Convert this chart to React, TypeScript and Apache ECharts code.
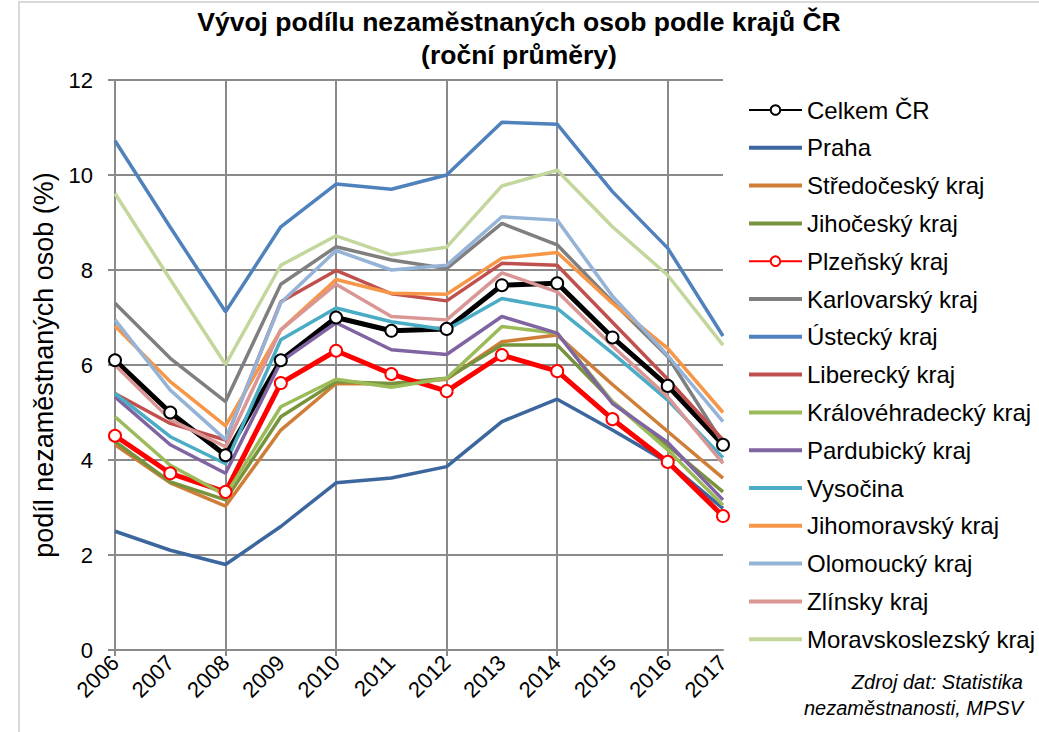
import React, { useEffect, useRef } from "react";
import * as echarts from "echarts";

const years = ["2006","2007","2008","2009","2010","2011","2012","2013","2014","2015","2016","2017"];

const celkem = [6.1, 5.0, 4.1, 6.1, 7.0, 6.72, 6.76, 7.68, 7.72, 6.58, 5.56, 4.32];
const praha = [2.5, 2.1, 1.8, 2.6, 3.52, 3.62, 3.86, 4.81, 5.28, 4.63, 3.95, 2.98];
const stredocesky = [4.32, 3.52, 3.03, 4.63, 5.61, 5.6, 5.7, 6.49, 6.63, 5.59, 4.6, 3.62];
const jihocesky = [4.39, 3.54, 3.16, 4.91, 5.65, 5.61, 5.72, 6.42, 6.42, 5.23, 4.3, 3.33];
const plzensky = [4.51, 3.72, 3.33, 5.62, 6.3, 5.81, 5.45, 6.21, 5.87, 4.86, 3.96, 2.82];
const karlovarsky = [7.3, 6.14, 5.23, 7.7, 8.49, 8.21, 8.03, 8.98, 8.53, 7.33, 6.18, 4.35];
const ustecky = [10.72, 8.9, 7.12, 8.91, 9.81, 9.7, 10.0, 11.11, 11.07, 9.65, 8.46, 6.61];
const liberecky = [5.4, 4.77, 4.42, 7.33, 7.99, 7.5, 7.35, 8.14, 8.1, 6.9, 5.7, 4.42];
const kralovehradecky = [4.91, 3.89, 3.26, 5.12, 5.7, 5.53, 5.72, 6.81, 6.67, 5.23, 4.21, 3.05];
const pardubicky = [5.33, 4.32, 3.72, 6.07, 6.89, 6.32, 6.22, 7.02, 6.67, 5.19, 4.37, 3.16];
const vysocina = [5.4, 4.49, 3.92, 6.53, 7.2, 6.91, 6.74, 7.4, 7.19, 6.25, 5.26, 4.05];
const jihomoravsky = [6.82, 5.65, 4.72, 6.74, 7.8, 7.51, 7.49, 8.25, 8.37, 7.3, 6.35, 5.0];
const olomoucky = [6.95, 5.47, 4.43, 7.31, 8.41, 8.0, 8.1, 9.12, 9.05, 7.45, 6.2, 4.81];
const zlinsky = [6.0, 4.85, 4.28, 6.74, 7.7, 7.02, 6.95, 7.94, 7.54, 6.4, 5.33, 3.93];
const moravskoslezsky = [9.61, 7.8, 6.01, 8.1, 8.72, 8.32, 8.48, 9.77, 10.1, 8.91, 7.89, 6.42];

const seriesDefs = [
  { name: "Celkem ČR", data: celkem, color: "#000000", marker: true },
  { name: "Praha", data: praha, color: "#3C679E" },
  { name: "Středočeský kraj", data: stredocesky, color: "#CF7E38" },
  { name: "Jihočeský kraj", data: jihocesky, color: "#77933C" },
  { name: "Plzeňský kraj", data: plzensky, color: "#FF0000", marker: true },
  { name: "Karlovarský kraj", data: karlovarsky, color: "#7F7F7F" },
  { name: "Ústecký kraj", data: ustecky, color: "#4F81BD" },
  { name: "Liberecký kraj", data: liberecky, color: "#C0504D" },
  { name: "Královéhradecký kraj", data: kralovehradecky, color: "#9BBB59" },
  { name: "Pardubický kraj", data: pardubicky, color: "#8064A2" },
  { name: "Vysočina", data: vysocina, color: "#4BACC6" },
  { name: "Jihomoravský kraj", data: jihomoravsky, color: "#F79646" },
  { name: "Olomoucký kraj", data: olomoucky, color: "#95B3D7" },
  { name: "Zlínsky kraj", data: zlinsky, color: "#D99694" },
  { name: "Moravskoslezský kraj", data: moravskoslezsky, color: "#C3D69B" },
];

const FONT = "'Liberation Sans', Arial, sans-serif";
const LINE_ICON = "path://M0,0 L53,0 L53,4 L0,4 Z";

export default function App() {
  const ref = useRef<HTMLDivElement>(null);
  useEffect(() => {
    if (!ref.current) return;
    const chart = echarts.init(ref.current, undefined, { renderer: "svg" });
    const gridColor = "#8A8A8A";
    chart.setOption({
      animation: false,
      backgroundColor: "#ffffff",
      textStyle: { fontFamily: FONT },
      title: {
        text: "Vývoj podílu nezaměstnaných osob podle krajů ČR\n(roční průměry)",
        left: 519,
        textAlign: "center",
        top: 5,
        padding: 0,
        textStyle: { fontFamily: FONT, fontSize: 26.5, fontWeight: "bold", color: "#000", lineHeight: 33 },
      },
      graphic: [
        {
          type: "rect",
          shape: { x: 19, y: 2, width: 1030, height: 740 },
          style: { fill: "none", stroke: "#D9D9D9", lineWidth: 2 },
          silent: true,
        },
        {
          type: "text",
          x: 1023,
          y: 669,
          style: {
            text: "Zdroj dat: Statistika\nnezaměstnanosti, MPSV",
            align: "right",
            verticalAlign: "top",
            fontFamily: FONT,
            fontSize: 20,
            fontStyle: "italic",
            lineHeight: 26,
            fill: "#000",
          },
        },
      ],
      legend: {
        orient: "vertical",
        left: 748,
        top: 98,
        padding: 0,
        itemWidth: 53,
        itemHeight: 12,
        itemGap: 13.8,
        textStyle: { fontFamily: FONT, fontSize: 24, color: "#000", lineHeight: 24 },
        data: seriesDefs.map((s) =>
          s.marker ? { name: s.name } : { name: s.name, icon: LINE_ICON }
        ),
      },
      grid: { left: 115, right: 316, top: 80, bottom: 82, containLabel: false },
      xAxis: {
        type: "category",
        data: years,
        boundaryGap: false,
        axisLine: { show: true, lineStyle: { color: gridColor, width: 2 } },
        axisTick: {
          show: true,
          interval: (i: number) => i % 2 === 0,
          length: 6,
          lineStyle: { color: gridColor, width: 2 },
        },
        axisLabel: {
          interval: 0,
          rotate: 45,
          margin: 9,
          fontFamily: FONT,
          fontSize: 22,
          color: "#000",
        },
        splitLine: {
          show: true,
          interval: (i: number) => i % 2 === 0,
          lineStyle: { color: gridColor, width: 2 },
        },
      },
      yAxis: {
        type: "value",
        min: 0,
        max: 12,
        interval: 2,
        name: "podíl nezaměstnaných osob (%)",
        nameLocation: "middle",
        nameGap: 58,
        nameTextStyle: { fontFamily: FONT, fontSize: 27, color: "#000" },
        axisLine: { show: true, lineStyle: { color: gridColor, width: 2 } },
        axisTick: { show: true, length: 7, lineStyle: { color: gridColor, width: 2 } },
        axisLabel: { margin: 22, fontFamily: FONT, fontSize: 22, color: "#000" },
        splitLine: { show: true, lineStyle: { color: gridColor, width: 2 } },
      },
      series: seriesDefs.map((s) => ({
        name: s.name,
        type: "line",
        data: s.data,
        color: s.color,
        symbol: s.marker ? "circle" : "none",
        symbolSize: 12,
        showSymbol: !!s.marker,
        lineStyle: { color: s.color, width: s.marker ? 5 : 3.5 },
        itemStyle: s.marker
          ? { color: "#ffffff", borderColor: s.color, borderWidth: 2 }
          : { color: s.color },
        emphasis: { disabled: true },
      })),
    });
    return () => chart.dispose();
  }, []);
  return (
    <div
      ref={ref}
      style={{ position: "fixed", left: 0, top: 0, width: 1039, height: 732 }}
    />
  );
}
